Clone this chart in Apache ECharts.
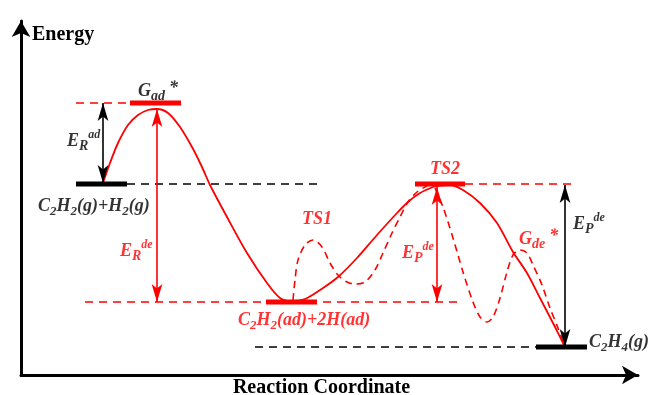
<!DOCTYPE html>
<html><head><meta charset="utf-8">
<script src="https://cdn.jsdelivr.net/npm/echarts@6/dist/echarts.min.js"></script>
<style>html,body{margin:0;padding:0;background:#fff}#c{width:650px;height:395px}</style>
</head><body><div id="c"></div>
<script>
// Schematic energy profile: x = reaction coordinate, E = energy (arbitrary units)
const levelNames  = ['C2H2(g)+H2(g)', 'Gad*', 'C2H2(ad)+2H(ad)', 'TS2', 'C2H4(g)'];
const levelStart  = [55, 109, 245, 394, 515];
const levelEnd    = [106, 160, 296, 444, 566];
const levelEnergy = [191, 272, 73, 191, 28];

// dashed reference levels
const refStart  = [55, 106, 64, 444, 234];
const refEnd    = [109, 299, 442, 556, 515];
const refEnergy = [272, 191, 73, 191, 28];

// solid reaction path
const solidX = [82, 89, 97, 107, 117, 127, 136, 147, 159, 171, 181, 189, 206, 226, 246, 259, 269, 284, 302, 317, 336, 356, 376, 387, 399, 412, 416, 429, 442, 459, 476, 492, 506, 519, 532, 544];
const solidE = [192, 212, 232, 250, 260, 265, 266, 262, 248, 228, 208, 190, 158, 122, 92, 77, 74, 76, 87, 98, 117, 140, 162, 173, 182, 188, 189, 190, 185, 172, 152, 123, 102, 77, 52, 28];

// dashed path through TS1
const ts1X = [272, 274, 277, 284, 292, 301, 309, 317, 326, 334, 344, 354, 362, 371, 379, 387, 396, 406];
const ts1E = [75, 95, 115, 130, 135, 128, 112, 100, 93, 91, 93, 105, 122, 142, 158, 173, 183, 189];

// dashed path through Gde*
const gdeX = [414, 422, 432, 442, 452, 459, 466, 472, 479, 486, 492, 499, 506, 512, 521, 529, 537, 544];
const gdeE = [187, 168, 137, 103, 73, 58, 53, 58, 77, 103, 120, 125, 122, 110, 90, 67, 47, 28];

// energy-difference arrows
const arrowNames  = ['ER_ad', 'ER_de', 'EP_de(red)', 'EP_de(black)'];
const arrowX      = [82, 136, 416, 544];
const arrowTop    = [272, 266, 188, 190];
const arrowBottom = [192, 73, 73, 28];

// ---------- styles / annotation layout (kept separate from data) ----------
const FONT = '"Liberation Serif", "Times New Roman", serif';
const RED = '#ff0000', BLACK = '#000000';
const levelColor = [BLACK, RED, RED, RED, BLACK];
const refColor = [RED, BLACK, RED, RED, BLACK];
const arrowColor = [BLACK, RED, RED, BLACK];

const annotations = [
  { text: '{m|G}{sb|ad}{st|*}', at: [117, 284], color: BLACK },
  { text: '{m|E}{sb|R}{sp|ad}', at: [46, 234], color: BLACK },
  { text: '{m|C}{d|2}{m|H}{d|2}{m|(g)+H}{d|2}{m|(g)}', at: [17, 169], color: BLACK },
  { text: '{m|E}{sb|R}{sp|de}', at: [99, 124], color: RED },
  { text: '{m|TS1}', at: [281, 156], color: RED },
  { text: '{m|TS2}', at: [409, 206], color: RED },
  { text: '{m|C}{d|2}{m|H}{d|2}{m|(ad)+2H(ad)}', at: [217, 55], color: RED },
  { text: '{m|E}{sb|P}{sp|de}', at: [381, 122], color: RED },
  { text: '{m|G}{sb|de}{st|*}', at: [498, 136], color: RED },
  { text: '{m|E}{sb|P}{sp|de}', at: [552, 151], color: BLACK },
  { text: '{m|C}{d|2}{m|H}{d|4}{m|(g)}', at: [568, 33], color: BLACK }
];

function rich(color) {
  const base = { fontFamily: FONT, fontWeight: 'bold', fontStyle: 'italic', color: color };
  return {
    m:  Object.assign({}, base, { fontSize: 18, lineHeight: 24 }),
    d:  Object.assign({}, base, { fontSize: 13, lineHeight: 19, verticalAlign: 'bottom' }),
    sb: Object.assign({}, base, { fontSize: 14, lineHeight: 15, verticalAlign: 'bottom' }),
    sp: Object.assign({}, base, { fontSize: 12, lineHeight: 10, verticalAlign: 'top' }),
    st: Object.assign({}, base, { fontSize: 18, lineHeight: 20, verticalAlign: 'top', padding: [0, 0, 0, 4] })
  };
}

const series = [];
const zip = (xs, es) => xs.map((x, i) => [x, es[i]]);

// curves
series.push({ type: 'line', data: zip(solidX, solidE), smooth: 0.3, symbol: 'none', z: 2,
  lineStyle: { color: RED, width: 1.8 } });
series.push({ type: 'line', data: zip(ts1X, ts1E), smooth: 0.3, symbol: 'none', z: 2,
  lineStyle: { color: RED, width: 1.6, type: [7, 5] } });
series.push({ type: 'line', data: zip(gdeX, gdeE), smooth: 0.3, symbol: 'none', z: 2,
  lineStyle: { color: RED, width: 1.6, type: [7, 5] } });

// dashed reference levels
refStart.forEach((s, i) => series.push({ type: 'line', symbol: 'none', z: 2,
  data: [[s, refEnergy[i]], [refEnd[i], refEnergy[i]]],
  lineStyle: { color: refColor[i], width: 1.6, type: [8, 6] } }));

// level bars
levelStart.forEach((s, i) => series.push({ type: 'line', name: levelNames[i], symbol: 'none', z: 4,
  data: [[s, levelEnergy[i]], [levelEnd[i], levelEnergy[i]]],
  lineStyle: { color: levelColor[i], width: 5, cap: 'butt' } }));

// labels + arrows
series.push({
  type: 'scatter', z: 6, clip: false, symbol: 'circle', symbolSize: 1,
  itemStyle: { color: 'rgba(0,0,0,0)' },
  data: annotations.map(a => ({ value: a.at, label: {
    show: true, position: 'inside', align: 'left', verticalAlign: 'middle',
    formatter: a.text, rich: rich(a.color), color: a.color } })),
  markLine: {
    silent: true, animation: false, symbol: ['arrow', 'arrow'], symbolSize: [8, 18],
    label: { show: false },
    data: arrowX.map((x, i) => [
      { name: arrowNames[i], coord: [x, arrowTop[i]], lineStyle: { color: arrowColor[i], width: 1.6, type: 'solid' } },
      { coord: [x, arrowBottom[i]] }
    ])
  }
});

const chart = echarts.init(document.getElementById('c'));
chart.setOption({
  animation: false,
  backgroundColor: '#fff',
  grid: { left: 21, right: 12, top: 21, bottom: 20, containLabel: false, outerBoundsMode: 'none' },
  xAxis: {
    type: 'value', min: 0, max: 617,
    axisLine: { show: true, onZero: false, symbol: ['none', 'arrow'], symbolSize: [14, 16], lineStyle: { color: BLACK, width: 3 } },
    axisTick: { show: false }, axisLabel: { show: false }, splitLine: { show: false },
    name: 'Reaction Coordinate', nameLocation: 'middle', nameGap: 3,
    nameTextStyle: { fontFamily: FONT, fontWeight: 'bold', fontSize: 20, color: BLACK, padding: [0, 16, 0, 0] }
  },
  yAxis: {
    type: 'value', min: 0, max: 354,
    axisLine: { show: true, onZero: false, symbol: ['none', 'arrow'], symbolSize: [14, 16], lineStyle: { color: BLACK, width: 3 } },
    axisTick: { show: false }, axisLabel: { show: false }, splitLine: { show: false },
    name: 'Energy', nameLocation: 'end', nameGap: -14,
    nameTextStyle: { fontFamily: FONT, fontWeight: 'bold', fontSize: 20, color: BLACK, align: 'left', verticalAlign: 'middle', padding: [0, 0, 0, 11] }
  },
  series: series
});
</script></body></html>
